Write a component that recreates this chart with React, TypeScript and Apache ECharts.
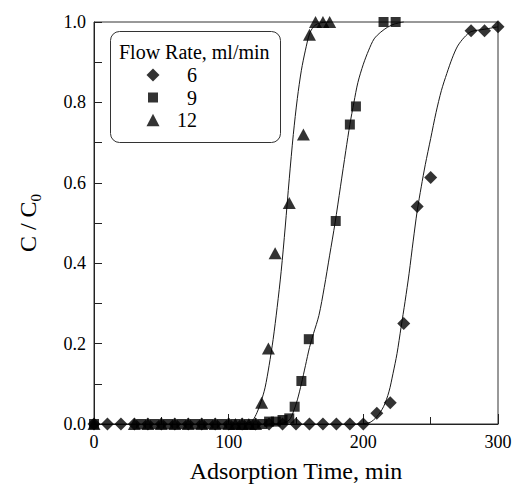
import React, { useEffect, useRef } from "react";
import * as echarts from "echarts";

// Measured points (time, min; C/C0)
const time6 = [0, 10, 20, 30, 40, 50, 60, 70, 80, 90, 100, 110, 120, 130, 140, 150, 160, 170, 180, 190, 200, 210, 220, 230, 240, 250, 280, 290, 300];
const conc6 = [0, 0, 0, 0, 0, 0, 0, 0, 0, 0, 0, 0, 0, 0, 0, 0, 0, 0, 0, 0, 0, 0.027, 0.053, 0.25, 0.541, 0.613, 0.978, 0.978, 0.988];

const time9 = [0, 35, 45, 55, 65, 75, 85, 95, 105, 115, 125, 130, 135, 140, 145, 149, 154, 159.5, 179.5, 190, 194.5, 215, 224];
const conc9 = [0, 0, 0, 0, 0, 0, 0, 0, 0, 0, 0, 0.006, 0.006, 0.01, 0.014, 0.043, 0.107, 0.211, 0.505, 0.745, 0.79, 1.0, 1.0];

const time12 = [0, 30, 40, 50, 60, 70, 80, 90, 100, 105, 110, 115, 120, 124.5, 129.5, 134.5, 145, 155.5, 160, 164.5, 170, 175];
const conc12 = [0, 0, 0, 0, 0, 0, 0, 0, 0, 0, 0, 0, 0, 0.053, 0.188, 0.425, 0.55, 0.72, 0.968, 1.0, 1.0, 1.0];

// Fitted curves
const fitTime6 = [195, 200, 205, 210, 215, 219, 222, 225, 228, 231, 234, 237, 240, 243, 246, 250, 254, 258, 262, 266, 270, 275, 280, 290, 300];
const fitConc6 = [0, 0.001, 0.004, 0.018, 0.043, 0.08, 0.125, 0.175, 0.24, 0.305, 0.375, 0.455, 0.53, 0.59, 0.645, 0.71, 0.775, 0.83, 0.872, 0.91, 0.94, 0.962, 0.976, 0.982, 0.988];

const fitTime9 = [130, 140, 145, 148, 151, 154, 157, 160, 163, 167, 171, 175, 179, 183, 187, 190, 193, 196, 200, 204, 208, 213, 218, 223, 230];
const fitConc9 = [0, 0.002, 0.01, 0.03, 0.06, 0.1, 0.145, 0.19, 0.225, 0.27, 0.34, 0.42, 0.5, 0.59, 0.68, 0.745, 0.8, 0.85, 0.895, 0.93, 0.958, 0.975, 0.987, 0.995, 1.0];

const fitTime12 = [105, 112, 115, 118, 121, 124, 127, 130, 133, 136, 139, 142, 145, 148, 151, 154, 157, 160, 163, 167, 175];
const fitConc12 = [0, 0.001, 0.003, 0.01, 0.028, 0.055, 0.09, 0.145, 0.21, 0.29, 0.38, 0.49, 0.61, 0.72, 0.81, 0.88, 0.93, 0.97, 0.988, 0.997, 1.0];

const legendNames = ["6", "9", "12"];
const yTicks = ["0.0", "0.2", "0.4", "0.6", "0.8", "1.0"];
const xTicks = ["0", "100", "200", "300"];

const zip = (a: number[], b: number[]) => a.map((v, i) => [v, b[i]]);

const FONT = "'Liberation Serif', 'Times New Roman', serif";

export default function App() {
  const ref = useRef<HTMLDivElement>(null);
  useEffect(() => {
    if (!ref.current) return;
    const chart = echarts.init(ref.current, undefined, { renderer: "svg" });
    const lineStyle = { color: "#1a1a1a", width: 1 };
    const fit = (name: string, t: number[], c: number[]) => ({
      name,
      type: "line",
      data: zip(t, c),
      smooth: 0.3,
      showSymbol: false,
      symbol: "none",
      lineStyle,
      z: 2,
      clip: false,
      silent: true,
    });
    chart.setOption({
      animation: false,
      backgroundColor: "#fff",
      textStyle: { fontFamily: FONT, color: "#000" },
      grid: {
        left: 94,
        right: 18,
        top: 22,
        bottom: 68,
        show: true,
        borderColor: "#333",
        borderWidth: 1,
      },
      xAxis: {
        type: "value",
        min: 0,
        max: 300,
        interval: 100,
        name: "Adsorption Time, min",
        nameLocation: "middle",
        nameGap: 35,
        nameTextStyle: { fontFamily: FONT, fontSize: 24, color: "#000" },
        axisLine: { show: true, lineStyle: { color: "#222", width: 1 } },
        axisTick: { show: true, inside: true, length: 10, lineStyle: { color: "#222" } },
        minorTick: { show: true, splitNumber: 2, length: 7, lineStyle: { color: "#222" } },
        splitLine: { show: false },
        axisLabel: {
          fontFamily: FONT,
          fontSize: 18,
          color: "#000",
          margin: 9,
          formatter: (v: number) => xTicks[Math.round(v / 100)] ?? "",
        },
      },
      yAxis: {
        type: "value",
        min: 0,
        max: 1,
        interval: 0.2,
        name: "{a|C / C}{b|0}",
        nameLocation: "middle",
        nameGap: 51,
        nameTextStyle: {
          fontFamily: FONT,
          color: "#000",
          rich: {
            a: { fontFamily: FONT, fontSize: 24, lineHeight: 30, color: "#000" },
            b: { fontFamily: FONT, fontSize: 15, lineHeight: 12, verticalAlign: "bottom", color: "#000" },
          },
        },
        axisLine: { show: true, lineStyle: { color: "#222", width: 1 } },
        axisTick: { show: true, inside: true, length: 8, lineStyle: { color: "#222" } },
        minorTick: { show: true, splitNumber: 2, length: 8, lineStyle: { color: "#222" } },
        splitLine: { show: false },
        axisLabel: {
          fontFamily: FONT,
          fontSize: 18,
          color: "#000",
          margin: 8,
          formatter: (v: number) => yTicks[Math.round(v / 0.2)] ?? "",
        },
      },
      legend: {
        orient: "vertical",
        left: 146,
        top: 65,
        itemWidth: 14,
        itemHeight: 14,
        itemGap: 2.5,
        padding: 0,
        z: 100,
        selectedMode: false,
        data: [
          { name: "6", icon: "path://M0,0M14,14M7,0.5L13.5,7L7,13.5L0.5,7Z" },
          { name: "9", icon: "path://M0,0M14,14M2,2H12V12H2Z" },
          { name: "12", icon: "path://M0,0M14,14M7,0.7L13.5,13.3H0.5Z" },
        ],
        formatter: (name: string) => `{r|${name}}`,
        textStyle: {
          fontFamily: FONT,
          color: "#000",
          fontSize: 20,
          lineHeight: 14,
          rich: {
            r: { fontFamily: FONT, fontSize: 20, width: 32, align: "right", lineHeight: 14, color: "#000" },
          },
        },
      },
      graphic: [
        {
          type: "rect",
          left: 110,
          top: 31,
          shape: { width: 170, height: 111, r: 9 },
          style: { fill: "#fff", stroke: "#333", lineWidth: 1 },
          z: 50,
        },
        {
          type: "text",
          left: 119,
          top: 42,
          style: { text: "Flow Rate, ml/min", fontFamily: FONT, fontSize: 20, fill: "#000" },
          z: 51,
        },
      ],
      series: [
        fit("fit6", fitTime6, fitConc6),
        fit("fit9", fitTime9, fitConc9),
        fit("fit12", fitTime12, fitConc12),
        {
          name: legendNames[0],
          type: "scatter",
          data: zip(time6, conc6),
          symbol: "diamond",
          symbolSize: 13,
          itemStyle: { color: "#000" },
          clip: false,
          z: 5,
        },
        {
          name: legendNames[1],
          type: "scatter",
          data: zip(time9, conc9),
          symbol: "rect",
          symbolSize: 10,
          itemStyle: { color: "#000" },
          clip: false,
          z: 5,
        },
        {
          name: legendNames[2],
          type: "scatter",
          data: zip(time12, conc12),
          symbol: "triangle",
          symbolSize: [13, 12],
          itemStyle: { color: "#000" },
          clip: false,
          z: 5,
        },
      ],
    });
    return () => chart.dispose();
  }, []);
  return (
    <div
      ref={ref}
      style={{ position: "fixed", left: 0, top: 0, width: 516, height: 492, background: "#fff" }}
    />
  );
}
